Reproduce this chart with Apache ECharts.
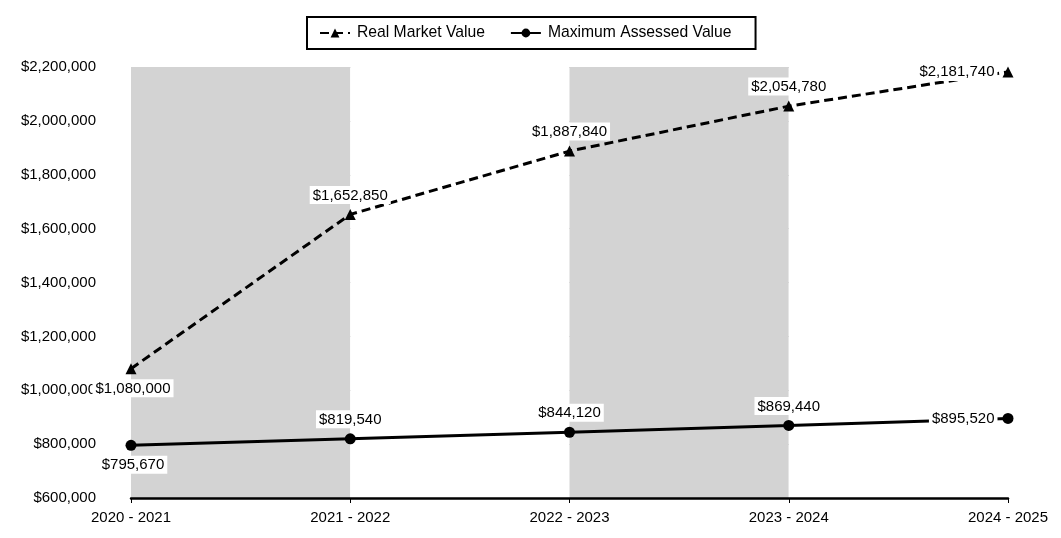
<!DOCTYPE html>
<html><head><meta charset="utf-8">
<script src="https://cdn.jsdelivr.net/npm/echarts@6/dist/echarts.min.js"></script>
<style>html,body{margin:0;padding:0;background:#fff}#c{width:1061px;height:538px}</style>
</head><body><div id="c"></div>
<script>
var categories = ['2020 - 2021','2021 - 2022','2022 - 2023','2023 - 2024','2024 - 2025'];
var realMarket = [1080000,1652850,1887840,2054780,2181740];
var maxAssessed = [795670,819540,844120,869440,895520];
var rmvPos = ['bottom','top','top','top','left'];
var mavPos = ['bottom','top','top','top','left'];
var yMin = 600000, yMax = 2200000, yStep = 200000;

function money(v){ return '$' + Math.round(v).toString().replace(/\B(?=(\d{3})+(?!\d))/g, ','); }
function buildData(vals, pos){
  return vals.map(function(v,i){
    var p = pos[i];
    var off = p==='bottom' ? [2,0] : [0,0];
    return {value:v, label:{position:p, offset:off}};
  });
}
var font = 'Liberation Sans, Arial, sans-serif';
var lbl = {show:true, color:'#000', fontSize:15, fontFamily:font, backgroundColor:'#fff', padding:[2,3,1,3], formatter:function(p){return money(p.value);}};
var chart = echarts.init(document.getElementById('c'));
chart.setOption({
  animation:false,
  textStyle:{fontFamily:font},
  legend:{
    top:17, left:307, padding:[8,24,8,12], borderColor:'#000', borderWidth:2, itemGap:25, itemWidth:30, itemHeight:11,
    textStyle:{fontSize:15.7, color:'#000', fontFamily:font, padding:[0,0,0,2]},
    data:['Real Market Value','Maximum Assessed Value']
  },
  grid:{left:131, right:53, top:67, bottom:40},
  xAxis:{
    type:'category', data:categories, boundaryGap:false,
    axisLine:{lineStyle:{color:'#000', width:2.5}},
    axisTick:{show:true, length:5, lineStyle:{color:'#000'}},
    axisLabel:{color:'#000', fontSize:15, fontFamily:font, margin:12},
    splitLine:{show:false},
    splitArea:{show:true, areaStyle:{color:['#d3d3d3','#ffffff']}}
  },
  yAxis:{
    type:'value', min:yMin, max:yMax, interval:yStep,
    axisLine:{show:false}, axisTick:{show:false},
    axisLabel:{color:'#000', fontSize:15, fontFamily:font, margin:35, formatter:money},
    splitLine:{lineStyle:{color:'#a6a6a6', width:1}}
  },
  series:[
    {name:'Real Market Value', type:'line', data:buildData(realMarket, rmvPos), symbol:'triangle', symbolSize:11,
     itemStyle:{color:'#000'}, lineStyle:{color:'#000', width:3, type:[9,5]}, label:lbl, z:3},
    {name:'Maximum Assessed Value', type:'line', data:buildData(maxAssessed, mavPos), symbol:'circle', symbolSize:11,
     itemStyle:{color:'#000'}, lineStyle:{color:'#000', width:3}, label:lbl, z:3}
  ]
});
</script></body></html>
